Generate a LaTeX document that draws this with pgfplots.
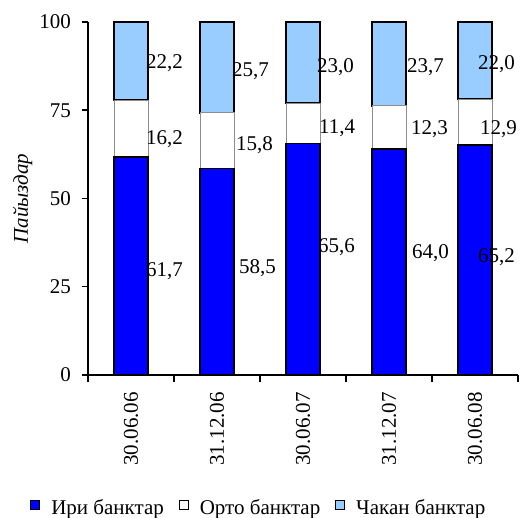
\documentclass[border=0pt]{standalone}
\usepackage{fontspec}
\setmainfont{Liberation Serif}
\usepackage{pgfplots}
\pgfplotsset{compat=1.18}
\definecolor{cblue}{RGB}{0,0,255}
\definecolor{clight}{RGB}{153,204,255}
\tikzset{lbl/.style={anchor=west, inner sep=0pt, text depth=0pt}}
\begin{document}
\fontsize{21}{25}\selectfont
\begin{tikzpicture}
\begin{axis}[
  scale only axis, width=430pt, height=353pt,
  ybar stacked, bar width=34pt,
  xmin=-0.5, xmax=4.5, ymin=0, ymax=100,
  axis x line*=bottom, axis y line*=left,
  axis line style={-, line width=1.5pt},
  /pgf/number format/assume math mode=true,
  xtick={0,1,2,3,4},
  xticklabels={\textrm{30.06.06},\textrm{31.12.06},\textrm{30.06.07},\textrm{31.12.07},\textrm{30.06.08}},
  xticklabel style={rotate=90, anchor=east, inner sep=0pt},
  xticklabel shift=11pt,
  minor xtick={-0.5,0.5,1.5,2.5,3.5,4.5},
  major x tick style={draw=none},
  minor x tick style={draw=black, line width=1.5pt},
  minor tick length=7pt,
  ytick={0,25,50,75,100},
  major tick length=6pt,
  tick align=outside,
  y tick style={draw=black, line width=1.5pt},
  yticklabel style={inner sep=0pt},
  yticklabel shift=11pt,
  every axis y label/.style={at={(axis description cs:-0.152,0.5)}, rotate=90, anchor=center, inner sep=0pt},
  ylabel={\itshape Пайыздар},
  legend style={at={(axis description cs:0.395,-0.378)}, anchor=center, draw=none, inner sep=0pt,
    nodes={inner sep=0pt},
    /tikz/every odd column/.append style={column sep=11pt},
    /tikz/every even column/.append style={column sep=15pt}},
  legend columns=-1,
  legend image code/.code={\draw[#1, draw=black, line width=0.9pt] (0pt,-1pt) rectangle (9pt,8pt);},
  after end axis/.code={
    \node[lbl] at (axis cs:0.174,88.7) {22,2};
    \node[lbl] at (axis cs:0.174,67.4) {16,2};
    \node[lbl] at (axis cs:0.174,30.0) {61,7};
    \node[lbl] at (axis cs:1.174,86.4) {25,7};
    \node[lbl] at (axis cs:1.221,65.7) {15,8};
    \node[lbl] at (axis cs:1.256,30.6) {58,5};
    \node[lbl] at (axis cs:2.163,87.8) {23,0};
    \node[lbl] at (axis cs:2.186,70.3) {11,4};
    \node[lbl] at (axis cs:2.174,36.8) {65,6};
    \node[lbl] at (axis cs:3.209,87.8) {23,7};
    \node[lbl] at (axis cs:3.256,70.0) {12,3};
    \node[lbl] at (axis cs:3.267,35.1) {64,0};
    \node[lbl] at (axis cs:4.035,88.4) {22,0};
    \node[lbl] at (axis cs:4.058,70.0) {12,9};
    \node[lbl] at (axis cs:4.035,33.7) {65,2};
    \path ([xshift=-88pt,yshift=22pt]rel axis cs:0,1) ([xshift=2pt,yshift=-142pt]rel axis cs:1,0);
  },
]
\addplot[fill=cblue, draw=black, line width=1.8pt] coordinates {(0,61.7) (1,58.5) (2,65.6) (3,64.0) (4,65.2)};
\addplot[fill=white, draw=black!45, line width=0.8pt] coordinates {(0,16.2) (1,15.8) (2,11.4) (3,12.3) (4,12.9)};
\addplot[fill=clight, draw=black, line width=1.8pt] coordinates {(0,22.2) (1,25.7) (2,23.0) (3,23.7) (4,22.0)};
\legend{Ири банктар, Орто банктар, Чакан банктар}
\end{axis}
\end{tikzpicture}
\end{document}
